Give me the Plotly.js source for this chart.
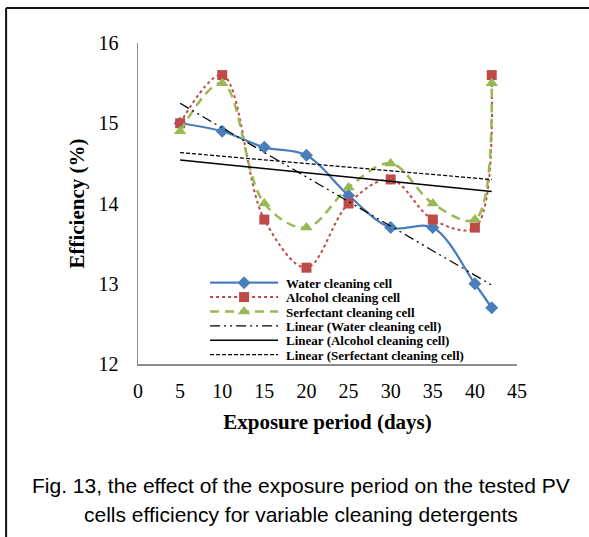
<!DOCTYPE html>
<html>
<head>
<meta charset="utf-8">
<script src="https://cdn.plot.ly/plotly-3.0.1.min.js"></script>
<style>html,body{margin:0;padding:0;background:#fff;}#chart{width:589px;height:537px;}</style>
</head>
<body>
<div id="chart"></div>
<script>
const days = [5, 10, 15, 20, 25, 30, 35, 40, 42];
const water = [15.0, 14.9, 14.7, 14.6, 14.1, 13.7, 13.7, 13.0, 12.7];
const alcohol = [15.0, 15.6, 13.8, 13.2, 14.0, 14.3, 13.8, 13.7, 15.6];
const surfactant = [14.9, 15.5, 14.0, 13.7, 14.2, 14.5, 14.0, 13.8, 15.5];
const seriesNames = ['Water cleaning cell', 'Alcohol cleaning cell', 'Serfectant cleaning cell'];

function linfit(x, y) {
  const n = x.length;
  const mx = x.reduce((a, b) => a + b, 0) / n;
  const my = y.reduce((a, b) => a + b, 0) / n;
  let sxy = 0, sxx = 0;
  for (let i = 0; i < n; i++) { sxy += (x[i] - mx) * (y[i] - my); sxx += (x[i] - mx) ** 2; }
  const b = sxy / sxx, a = my - b * mx;
  const xs = [x[0], x[n - 1]];
  return {x: xs, y: xs.map(v => a + b * v)};
}

const serif = 'Liberation Serif, Times New Roman, serif';
const sans = 'Liberation Sans, Arial, sans-serif';
const tW = linfit(days, water), tA = linfit(days, alcohol), tS = linfit(days, surfactant);

const traces = [
  {x: days, y: water, name: seriesNames[0], mode: 'lines+markers',
   line: {color: '#4A7EBB', width: 2.25, shape: 'spline', smoothing: 1},
   marker: {symbol: 'diamond', size: 10, color: '#4A7EBB'}},
  {x: days, y: alcohol, name: seriesNames[1], mode: 'lines+markers',
   line: {color: '#BE4B48', width: 2, dash: 'dot', shape: 'spline', smoothing: 1},
   marker: {symbol: 'square', size: 10, color: '#BE4B48'}},
  {x: days, y: surfactant, name: seriesNames[2], mode: 'lines+markers',
   line: {color: '#98B954', width: 2.5, dash: '9px,6px', shape: 'spline', smoothing: 1},
   marker: {symbol: 'triangle-up', size: 11, color: '#98B954'}},
  {x: tW.x, y: tW.y, name: 'Linear (' + seriesNames[0] + ')', mode: 'lines',
   line: {color: '#000', width: 1.25, dash: '10px,4px,2px,4px,2px,4px'}},
  {x: tA.x, y: tA.y, name: 'Linear (' + seriesNames[1] + ')', mode: 'lines',
   line: {color: '#000', width: 1.5}},
  {x: tS.x, y: tS.y, name: 'Linear (' + seriesNames[2] + ')', mode: 'lines',
   line: {color: '#000', width: 1.25, dash: '4px,2px'}}
];

const layout = {
  width: 589, height: 537,
  margin: {l: 138, r: 72, t: 43, b: 173},
  paper_bgcolor: '#fff', plot_bgcolor: '#fff',
  showlegend: true,
  legend: {x: 0.177, y: 0.3, xanchor: 'left', yanchor: 'top', bgcolor: 'rgba(0,0,0,0)',
    font: {family: serif, size: 13, color: '#000', weight: 'bold'}, tracegroupgap: 0},
  xaxis: {range: [0, 45], dtick: 5, tick0: 0, showgrid: false, zeroline: false,
    showline: true, linecolor: '#8c8c8c', linewidth: 1.5,
    ticks: 'outside', ticklen: 8, tickcolor: 'rgba(0,0,0,0)',
    tickfont: {family: serif, size: 20, color: '#000'},
    title: {text: '<b>Exposure period (days)</b>', font: {family: serif, size: 21, color: '#000'}, standoff: 14}},
  yaxis: {range: [12, 16], dtick: 1, showgrid: false, zeroline: false,
    showline: true, linecolor: '#8c8c8c', linewidth: 1.5,
    ticks: 'outside', ticklen: 14, tickcolor: 'rgba(0,0,0,0)',
    tickfont: {family: serif, size: 20, color: '#000'},
    title: {text: '<b>Efficiency (%)</b>', font: {family: serif, size: 21, color: '#000'}, standoff: 8}},
  shapes: [
    {type: 'line', xref: 'paper', yref: 'paper', x0: -0.348, x1: 1.3, y0: 1.109, y1: 1.109, line: {color: '#111', width: 2}},
    {type: 'line', xref: 'paper', yref: 'paper', x0: -0.348, x1: -0.348, y0: 1.109, y1: -0.6, line: {color: '#111', width: 2}}
  ],
  annotations: [
    {xref: 'paper', yref: 'paper', x: 0.43, y: -0.377, yanchor: 'middle', showarrow: false,
     text: 'Fig. 13, the effect of the exposure period on the tested PV',
     font: {family: sans, size: 21, color: '#000'}},
    {xref: 'paper', yref: 'paper', x: 0.43, y: -0.47, yanchor: 'middle', showarrow: false,
     text: 'cells efficiency for variable cleaning detergents',
     font: {family: sans, size: 21, color: '#000'}}
  ]
};

const gd = document.getElementById('chart');
Plotly.newPlot(gd, traces, layout, {displayModeBar: false, staticPlot: true}).then(() => {
  const sb = gd.querySelector('.legend .scrollbox');
  if (sb) sb.removeAttribute('clip-path');
  const items = gd.querySelectorAll('.legend .traces');
  let y0 = null;
  items.forEach((g, i) => {
    const m = /translate\(\s*([-\d.]+)[ ,]+([-\d.]+)\s*\)/.exec(g.getAttribute('transform') || '');
    if (!m) return;
    if (y0 === null) y0 = parseFloat(m[2]);
    g.setAttribute('transform', 'translate(' + m[1] + ',' + (y0 + i * 14.4) + ')');
    g.querySelectorAll('.legendlines path').forEach(p => p.setAttribute('d', 'M5,0h68'));
    g.querySelectorAll('.legendpoints path').forEach(p => {
      const t = p.getAttribute('transform') || '';
      p.setAttribute('transform', t.replace(/translate\([^)]*\)/, 'translate(39,0)') || 'translate(39,0)');
    });
    g.querySelectorAll('text.legendtext').forEach(t => t.setAttribute('x', 81));
  });
});
</script>
</body>
</html>
